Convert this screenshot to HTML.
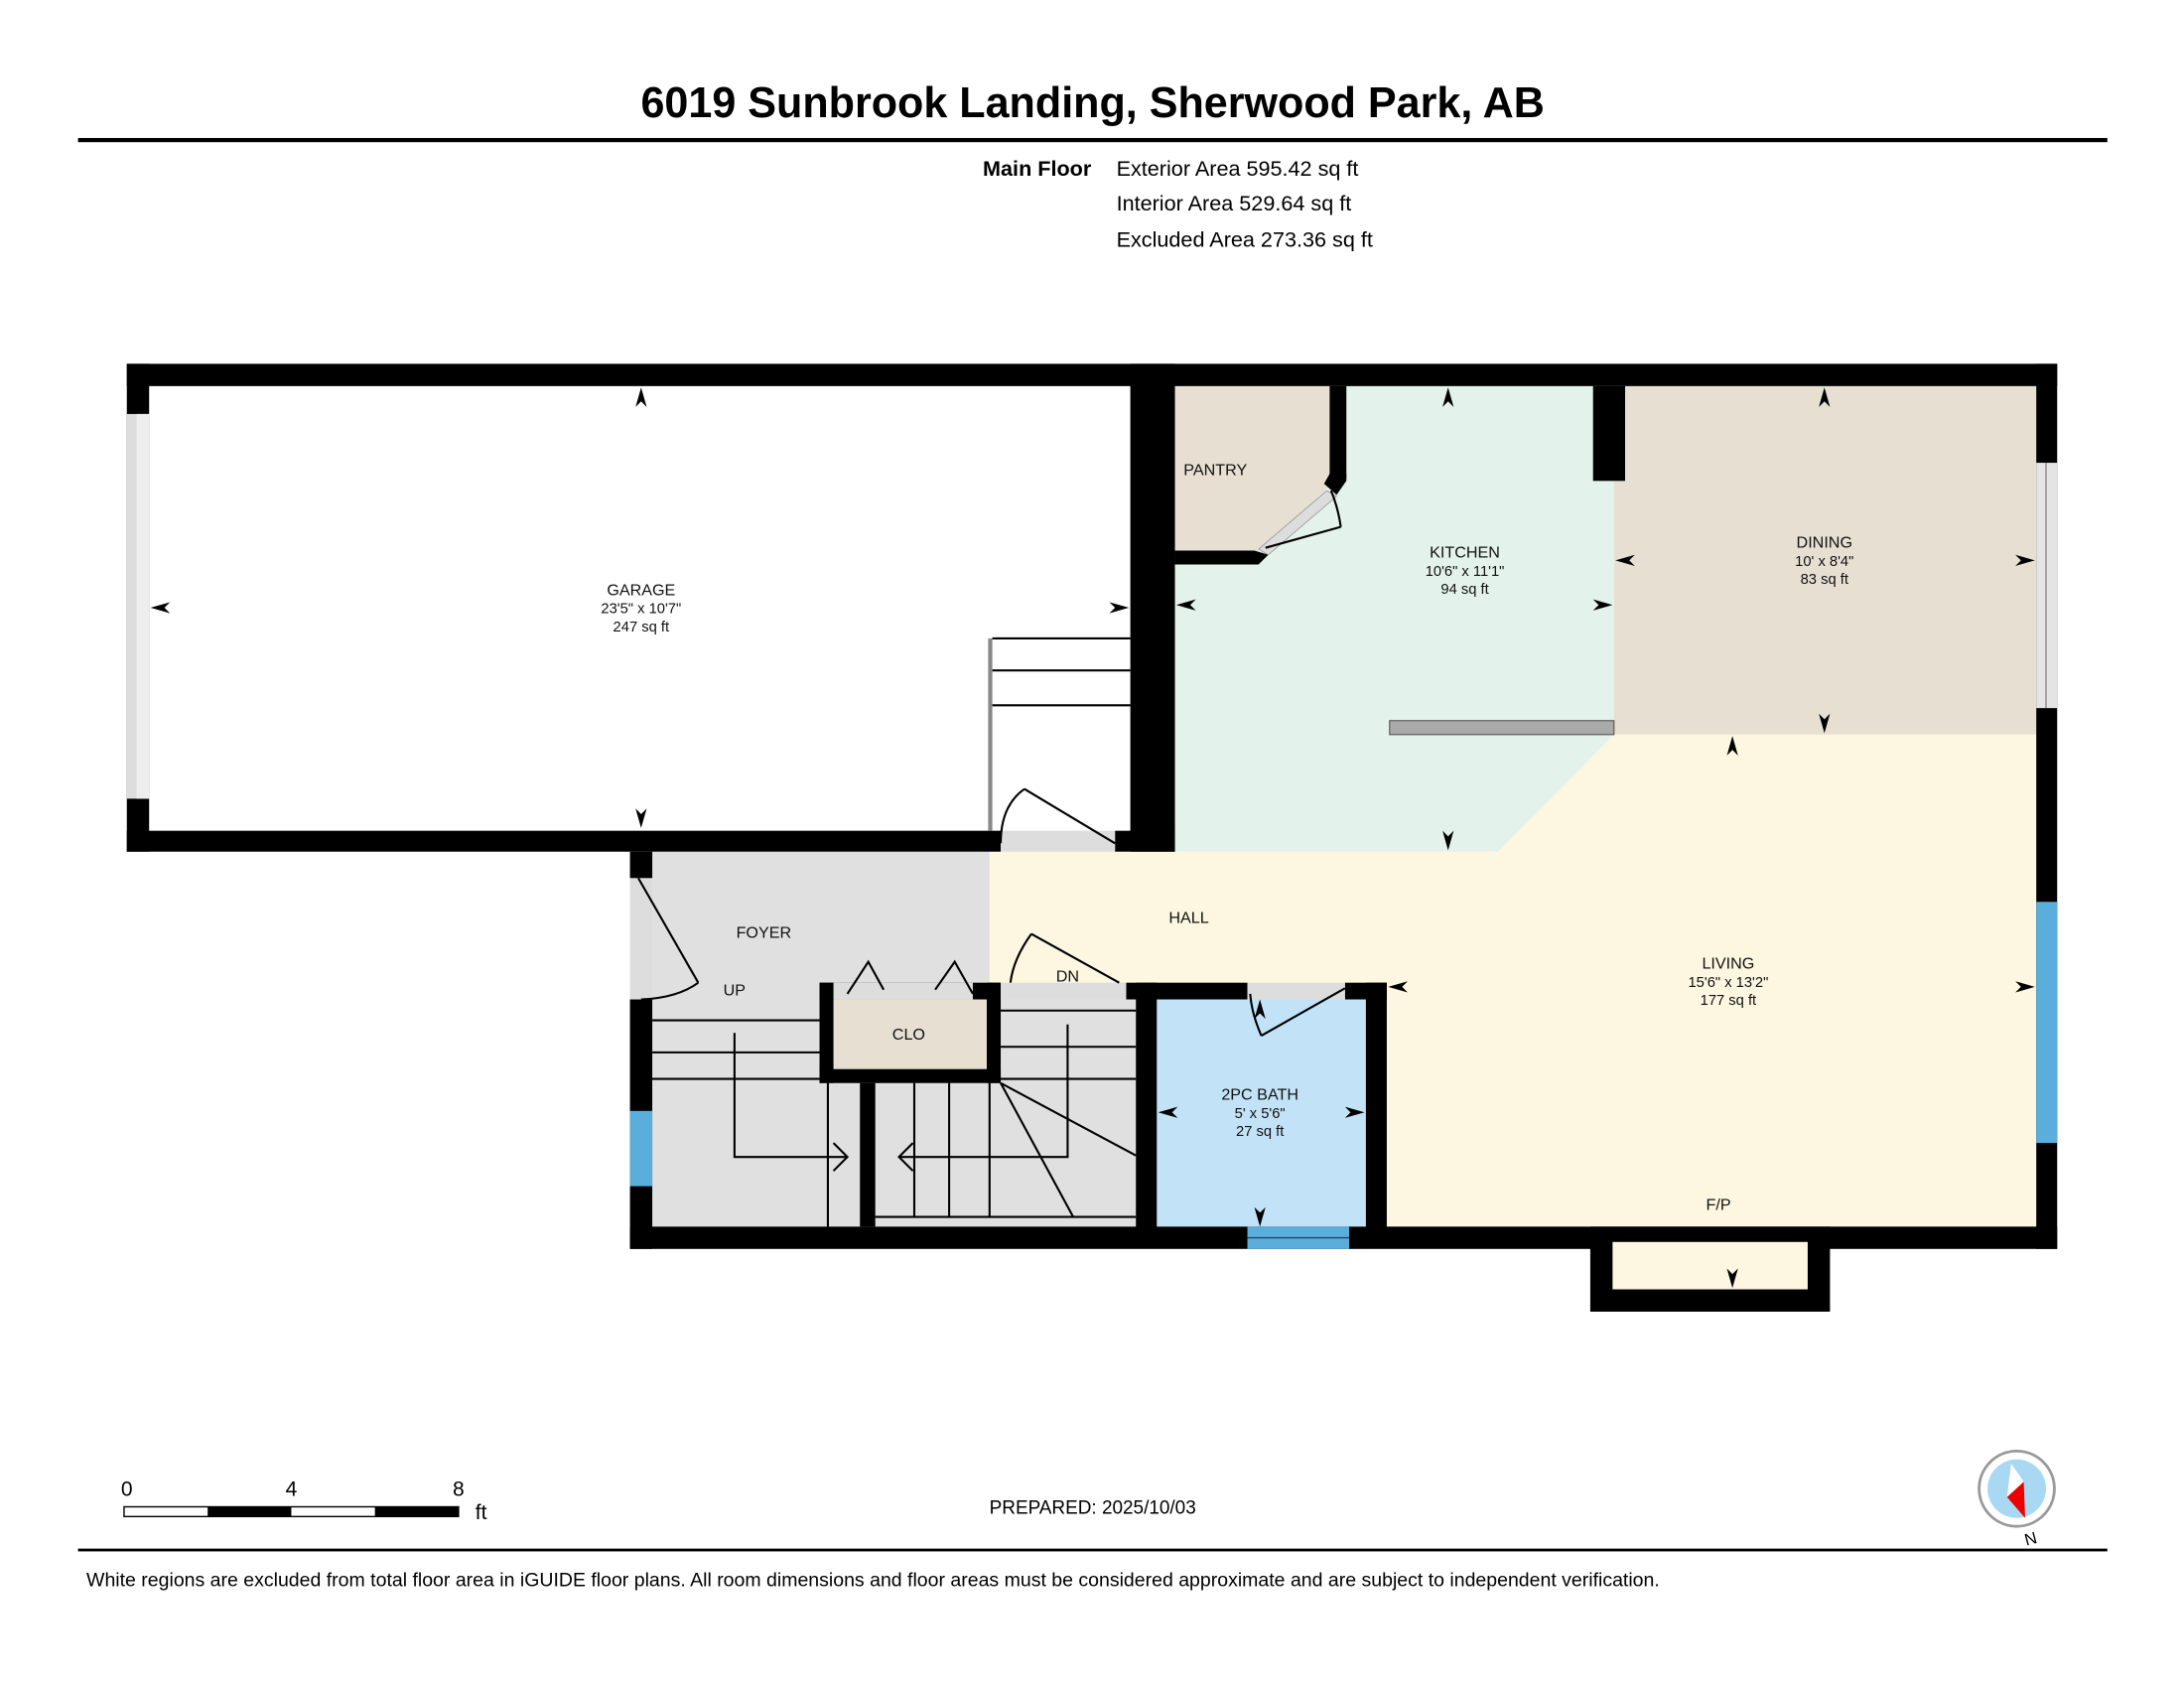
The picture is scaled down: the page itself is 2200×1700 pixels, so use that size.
<!DOCTYPE html>
<html><head><meta charset="utf-8"><style>html,body{margin:0;padding:0;background:#fff}svg{display:block}</style></head><body>
<svg width="2200" height="1700" viewBox="0 0 1567 1211" preserveAspectRatio="none" xmlns="http://www.w3.org/2000/svg" font-family="Liberation Sans, Arial, sans-serif">
<rect width="1567" height="1211" fill="#fff"/>
<text x="784" y="84" font-size="30.7" font-weight="bold" text-anchor="middle">6019 Sunbrook Landing, Sherwood Park, AB</text>
<rect x="56" y="99" width="1456" height="3" fill="#000"/>
<text x="783" y="126" font-size="15.4" font-weight="bold" text-anchor="end">Main Floor</text>
<text x="801" y="126" font-size="15.4">Exterior Area 595.42 sq ft</text>
<text x="801" y="151" font-size="15.4">Interior Area 529.64 sq ft</text>
<text x="801" y="177" font-size="15.4">Excluded Area 273.36 sq ft</text>

<polygon points="843,277 1158,277 1158,527 1075,611 843,611" fill="#e4f2ec"/>
<rect x="1158" y="277" width="303" height="250" fill="#e7dfd2"/>
<polygon points="1158,527 1461,527 1461,880 995,880 995,705 808,705 808,717 710,717 710,611 1075,611" fill="#fdf6e1"/>
<polygon points="843,277 958,277 958,345 905,395 843,395" fill="#e7dfd2"/>
<rect x="468" y="611" width="242" height="106" fill="#e0e0e0"/>
<rect x="468" y="717" width="347" height="163" fill="#e0e0e0"/>
<rect x="830" y="717" width="150" height="163" fill="#c2e3f7"/>
<rect x="598" y="717" width="110" height="50" fill="#e7dfd2"/>
<rect x="997" y="517" width="161" height="10" fill="#aaa" stroke="#555" stroke-width="0.8"/>

<g fill="#000">
<rect x="91" y="261" width="1385" height="16"/>
<rect x="91" y="261" width="16" height="350"/>
<rect x="91" y="596" width="627" height="15"/>
<rect x="800" y="596" width="43" height="15"/>
<rect x="811" y="261" width="32" height="350"/>
<rect x="1461" y="261" width="15" height="635"/>
<rect x="954" y="277" width="12" height="66"/>
<polygon points="954,340 966,340 966,345 959,355 950,347"/>
<polygon points="843,395 900,395 910,398 903,405 843,405"/>
<rect x="1143" y="277" width="23" height="68"/>
<rect x="452" y="611" width="16" height="19"/>
<rect x="452" y="717" width="16" height="179"/>
<rect x="452" y="880" width="1024" height="16"/>
<rect x="815" y="705" width="15" height="190"/>
<rect x="980" y="705" width="15" height="190"/>
<rect x="808" y="705" width="87" height="12"/>
<rect x="965" y="705" width="30" height="12"/>
<rect x="588" y="705" width="130" height="12"/>
<rect x="588" y="705" width="10" height="72"/>
<rect x="708" y="705" width="10" height="72"/>
<rect x="588" y="767" width="130" height="10"/>
<rect x="617" y="777" width="11" height="103"/>
<rect x="1141" y="880" width="172" height="61"/>
</g>
<polygon points="952,352 959,356 910,398 903,394" fill="#ddd" stroke="#999" stroke-width="0.6"/>
<rect x="1157" y="891" width="140" height="34" fill="#fdf6e1"/>
<rect x="91" y="297" width="16" height="276" fill="#ddd"/><rect x="98" y="297" width="9" height="276" fill="#eee"/>
<rect x="1461" y="332" width="15" height="176" fill="#e4e4e4"/><line x1="1468" y1="332" x2="1468" y2="508" stroke="#888" stroke-width="1"/>
<rect x="1461" y="647" width="15" height="173" fill="#5aaedc"/>
<rect x="452" y="797" width="16" height="54" fill="#5aaedc"/>
<rect x="895" y="880" width="73" height="16" fill="#5aaedc"/><line x1="895" y1="888" x2="968" y2="888" stroke="#246" stroke-width="1"/>
<rect x="718" y="596" width="82" height="15" fill="#ddd"/>
<rect x="895" y="705" width="70" height="12" fill="#ddd"/>
<rect x="718" y="705" width="90" height="12" fill="#ddd"/>
<rect x="598" y="705" width="100" height="12" fill="#ddd"/>
<rect x="452" y="630" width="16" height="87" fill="#ddd"/>

<g stroke="#000" stroke-width="1.5" fill="none">
<rect x="709" y="458" width="3" height="138" fill="#888" stroke="none"/>
<line x1="712" y1="458" x2="811" y2="458"/><line x1="712" y1="481" x2="811" y2="481"/><line x1="712" y1="506" x2="811" y2="506"/>
<line x1="800" y1="605" x2="735" y2="566"/><path d="M735,566 Q718,578 718,605"/>
<line x1="458" y1="630" x2="501" y2="705"/><path d="M501,705 Q486,716 460,717"/>
<line x1="803" y1="705" x2="740" y2="670"/><path d="M740,670 Q727,688 725,705"/>
<line x1="965" y1="709" x2="905" y2="743"/><path d="M905,743 Q898,727 897,713"/>
<line x1="908" y1="393" x2="962" y2="378"/><path d="M962,378 Q960,364 955,352"/>
<polyline points="608,713 623,690 634,710"/><polyline points="671,710 685,690 698,713"/>
<line x1="468" y1="732" x2="588" y2="732"/><line x1="468" y1="755" x2="588" y2="755"/><line x1="468" y1="774" x2="588" y2="774"/>
<line x1="718" y1="725" x2="815" y2="725"/><line x1="718" y1="751" x2="815" y2="751"/><line x1="718" y1="774" x2="815" y2="774"/>
<line x1="594" y1="777" x2="594" y2="880"/>
<line x1="656" y1="777" x2="656" y2="873"/><line x1="681" y1="777" x2="681" y2="873"/><line x1="710" y1="777" x2="710" y2="873"/>
<line x1="628" y1="873" x2="815" y2="873"/>
<line x1="718" y1="777" x2="815" y2="829"/><line x1="718" y1="777" x2="770" y2="873"/>
<polyline points="527,741 527,830 608,830"/><polyline points="598,820 608,830 598,840"/>
<polyline points="766,735 766,830 645,830"/><polyline points="655,820 645,830 655,840"/>
</g>

<g fill="#000">
<path d="M460,278 l-4,14 l4,-4 l4,4z"/><path d="M460,594 l-4,-14 l4,4 l4,-4z"/>
<path d="M108,436 l14,-4 l-4,4 l4,4z"/><path d="M810,436 l-14,-4 l4,4 l-4,4z"/>
<path d="M1039,278 l-4,14 l4,-4 l4,4z"/><path d="M1039,610 l-4,-14 l4,4 l4,-4z"/>
<path d="M844,434 l14,-4 l-4,4 l4,4z"/><path d="M1157,434 l-14,-4 l4,4 l-4,4z"/>
<path d="M1309,278 l-4,14 l4,-4 l4,4z"/><path d="M1309,526 l-4,-14 l4,4 l4,-4z"/>
<path d="M1159,402 l14,-4 l-4,4 l4,4z"/><path d="M1460,402 l-14,-4 l4,4 l-4,4z"/>
<path d="M1243,528 l-4,14 l4,-4 l4,4z"/><path d="M1243,924 l-4,-14 l4,4 l4,-4z"/>
<path d="M996,708 l14,-4 l-4,4 l4,4z"/><path d="M1460,708 l-14,-4 l4,4 l-4,4z"/>
<path d="M831,798 l14,-4 l-4,4 l4,4z"/><path d="M979,798 l-14,-4 l4,4 l-4,4z"/>
<path d="M904,880 l-4,-14 l4,4 l4,-4z"/><path d="M904,717 l-4,14 l4,-4 l4,4z"/>
</g>

<g font-size="11.5" text-anchor="middle" fill="#111">
<text x="460" y="427">GARAGE</text><text x="460" y="440" font-size="10.5">23'5" x 10'7"</text><text x="460" y="453" font-size="10.5">247 sq ft</text>
<text x="872" y="341">PANTRY</text>
<text x="1051" y="400">KITCHEN</text><text x="1051" y="413" font-size="10.5">10'6" x 11'1"</text><text x="1051" y="426" font-size="10.5">94 sq ft</text>
<text x="1309" y="393">DINING</text><text x="1309" y="406" font-size="10.5">10' x 8'4"</text><text x="1309" y="419" font-size="10.5">83 sq ft</text>
<text x="548" y="673">FOYER</text><text x="853" y="662">HALL</text><text x="527" y="714">UP</text><text x="766" y="704">DN</text>
<text x="652" y="746">CLO</text>
<text x="1240" y="695">LIVING</text><text x="1240" y="708" font-size="10.5">15'6" x 13'2"</text><text x="1240" y="721" font-size="10.5">177 sq ft</text>
<text x="904" y="789">2PC BATH</text><text x="904" y="802" font-size="10.5">5' x 5'6"</text><text x="904" y="815" font-size="10.5">27 sq ft</text>
<text x="1233" y="868">F/P</text>
</g>

<g font-size="15">
<text x="91" y="1073" text-anchor="middle">0</text><text x="209" y="1073" text-anchor="middle">4</text><text x="329" y="1073" text-anchor="middle">8</text><text x="341" y="1090">ft</text>
</g>
<rect x="89" y="1081" width="240" height="7" fill="#fff" stroke="#000" stroke-width="1"/>
<rect x="149" y="1081" width="60" height="7" fill="#000"/><rect x="269" y="1081" width="60" height="7" fill="#000"/>
<text x="784" y="1086" font-size="13.5" text-anchor="middle">PREPARED: 2025/10/03</text>
<circle cx="1447" cy="1068" r="27" fill="#fff" stroke="#999" stroke-width="2"/>
<circle cx="1447" cy="1068" r="21" fill="#a9d8f2"/>
<polygon points="1440,1074 1452,1063 1453,1089" fill="#e00"/>
<polygon points="1440,1074 1452,1063 1443,1050" fill="#fff"/>
<text x="1457" y="1108" font-size="12" text-anchor="middle" transform="rotate(-15 1457 1104)">N</text>
<rect x="56" y="1111" width="1456" height="2" fill="#000"/>
<text x="62" y="1138" font-size="13.9">White regions are excluded from total floor area in iGUIDE floor plans. All room dimensions and floor areas must be considered approximate and are subject to independent verification.</text>
</svg>
</body></html>
